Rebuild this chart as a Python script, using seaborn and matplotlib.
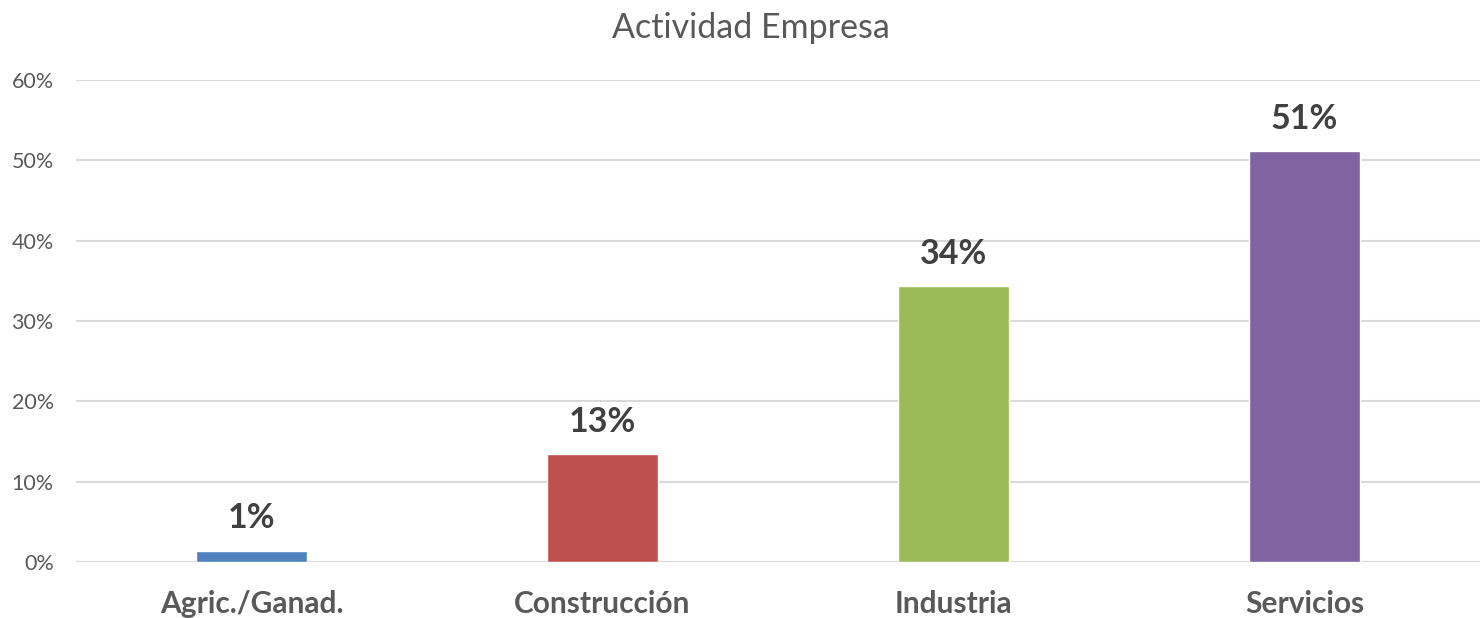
import matplotlib
matplotlib.use("Agg")
import matplotlib.pyplot as plt
import seaborn as sns
import pandas as pd
from matplotlib.ticker import FuncFormatter

categories = ["Agric./Ganad.", "Construcción", "Industria", "Servicios"]
values = [1.37, 13.4, 34.3, 51.1]
labels = ["1%", "13%", "34%", "51%"]
colors = ["#4F81BD", "#C0504D", "#9BBB59", "#8064A2"]
yticks = [0, 10, 20, 30, 40, 50, 60]

sns.set_theme(style="white")
plt.rcParams['font.family'] = ['Lato', 'DejaVu Sans']

df = pd.DataFrame({"cat": categories, "val": values})

fig = plt.figure(figsize=(14.82, 6.18), dpi=100)
ax = fig.add_axes([0.0513, 0.0906, 0.9474, 0.78])

sns.barplot(data=df, x="cat", y="val", hue="cat", palette=colors, width=0.316,
            legend=False, ax=ax, saturation=1)

ax.set_xlim(-0.5, 3.5)
ax.set_ylim(0, 60)
ax.set_yticks(yticks)
ax.yaxis.set_major_formatter(FuncFormatter(lambda v, p: f"{int(v)}%"))
ax.grid(axis="y", color="#D9D9D9", linewidth=1.5)
ax.set_axisbelow(True)
for s in ax.spines.values():
    s.set_visible(False)
ax.tick_params(axis="y", labelsize=15.5, labelcolor="#595959", length=0, pad=16)
ax.tick_params(axis="x", labelsize=21.5, labelcolor="#595959", length=0, pad=20)
for t in ax.get_xticklabels():
    t.set_fontweight("bold")
ax.set_xlabel("")
ax.set_ylabel("")

for cont, lab in zip(ax.containers, labels):
    ax.bar_label(cont, labels=[lab], padding=12, fontsize=24.5, fontweight="bold", color="#404040")

fig.suptitle("Actividad Empresa", x=0.507, y=0.98, fontsize=24.5, color="#595959")

fig.savefig("out.png", dpi=100)
